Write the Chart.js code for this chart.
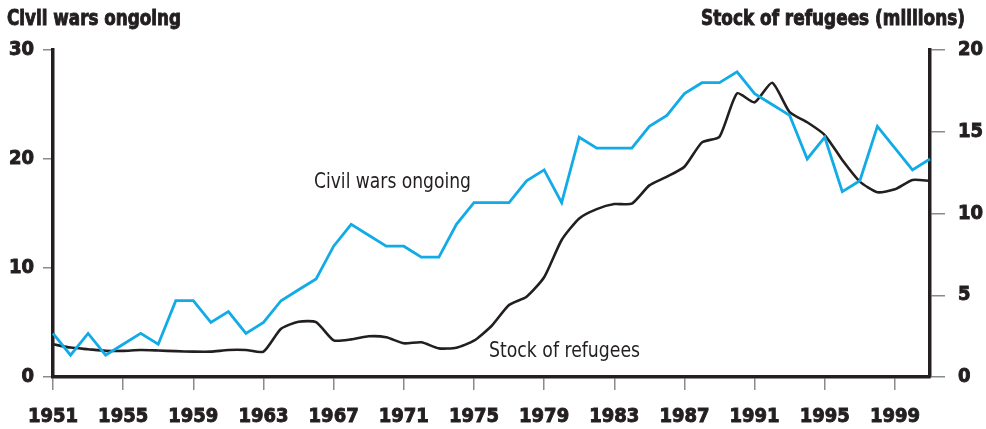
<!DOCTYPE html>
<html>
<head>
<meta charset="utf-8">
<script src="https://cdn.jsdelivr.net/npm/chart.js@4.4.1/dist/chart.umd.min.js"></script>
<style>
  html, body { margin: 0; padding: 0; background: #fff; }
  #wrap { width: 986px; height: 429px; position: relative; }
</style>
</head>
<body>
<div id="wrap"><canvas id="c"></canvas></div>
<script>
const years = Array.from({ length: 51 }, (_, i) => String(1951 + i))

// civil wars ongoing, left axis
const civilWars = [
  4, 2, 4, 2, 3, 4, 3, 7, 7, 5,
  6, 4, 5, 7, 8, 9, 12, 14, 13, 12,
  12, 11, 11, 14, 16, 16, 16, 18, 19, 16,
  22, 21, 21, 21, 23, 24, 26, 27, 27, 28,
  26, 25, 24, 20, 22, 17, 18, 23, 21, 19,
  20,
]

// stock of refugees in millions, right axis
const refugees = [
  2.0, 1.8, 1.7, 1.6, 1.6, 1.65, 1.62, 1.58, 1.55, 1.55,
  1.65, 1.65, 1.55, 2.95, 3.38, 3.36, 2.24, 2.3, 2.49, 2.43,
  2.06, 2.12, 1.75, 1.79, 2.22, 3.12, 4.4, 4.91, 6.1, 8.38,
  9.7, 10.27, 10.58, 10.6, 11.72, 12.25, 12.86, 14.35, 14.7, 17.35,
  16.8, 18.0, 16.2, 15.58, 14.8, 13.27, 11.95, 11.3, 11.48, 12.05,
  12.0,
]

const leftTitle = 'Civil wars ongoing'
const rightTitle = 'Stock of refugees (millions)'
const civilLabel = 'Civil wars ongoing'
const refugeeLabel = 'Stock of refugees'

const INK = '#231f20'
const BLUE = '#11abe6'
const TICK = '#8a8a8a'
const BOLD = "'DejaVu Sans Condensed', 'Liberation Sans Narrow', sans-serif"
const PLAIN = "'DejaVu Sans Condensed', sans-serif"

// draw text squeezed to a given width (the original uses a condensed face)
function squeezed(ctx, text, x, y, width, align, stroke) {
  const w = ctx.measureText(text).width
  const k = width / w
  ctx.save()
  ctx.translate(align === 'right' ? x - width : x, y)
  ctx.scale(k, 1)
  ctx.textAlign = 'left'
  ctx.fillText(text, 0, 0)
  if (stroke) {
    ctx.lineWidth = stroke
    ctx.strokeStyle = ctx.fillStyle
    ctx.strokeText(text, 0, 0)
  }
  ctx.restore()
}

const textPlugin = {
  id: 'texts',
  afterDraw(chart) {
    const ctx = chart.ctx
    const x = chart.scales.x
    const yl = chart.scales.yL
    ctx.save()
    ctx.fillStyle = INK
    ctx.textBaseline = 'alphabetic'
    ctx.font = 'bold 21px ' + BOLD
    squeezed(ctx, leftTitle, 7, 25, 174, 'left', 0.9)
    squeezed(ctx, rightTitle, 965, 25, 264, 'right', 0.9)

    ctx.font = '22px ' + PLAIN
    squeezed(ctx, civilLabel, x.getPixelForValue(14.88), yl.getPixelForValue(17.34), 157, 'left')
    squeezed(ctx, refugeeLabel, x.getPixelForValue(24.86), yl.getPixelForValue(1.83), 151, 'left')
    ctx.restore()
  },
}

const tickFont = { family: BOLD, size: 20, weight: 'bold' }

new Chart(document.getElementById('c'), {
  type: 'line',
  data: {
    labels: years,
    datasets: [
      {
        label: 'Civil wars ongoing',
        data: civilWars,
        yAxisID: 'yL',
        borderColor: BLUE,
        borderWidth: 2.8,
        pointRadius: 0,
        tension: 0,
      },
      {
        label: 'Stock of refugees',
        data: refugees,
        yAxisID: 'yR',
        borderColor: INK,
        borderWidth: 2.6,
        pointRadius: 0,
        tension: 0.2,
      },
    ],
  },
  options: {
    responsive: true,
    maintainAspectRatio: false,
    animation: false,
    layout: { padding: { top: 50, left: 0, right: 0, bottom: 0 } },
    plugins: {
      legend: { display: false },
      tooltip: { enabled: false },
    },
    scales: {
      x: {
        ticks: {
          autoSkip: false,
          maxRotation: 0,
          padding: 15,
          color: INK,
          textStrokeColor: INK,
          textStrokeWidth: 0.9,
          font: tickFont,
          callback: (v, i) => (i % 4 === 0 ? years[i] : null),
        },
        grid: { drawOnChartArea: false, tickLength: 13, tickColor: TICK, lineWidth: 1.5 },
        border: { color: INK, width: 3.5 },
        afterFit: (s) => { s.height = 52 },
      },
      yL: {
        position: 'left',
        min: 0,
        max: 30,
        ticks: {
          stepSize: 10,
          padding: 9,
          color: INK,
          textStrokeColor: INK,
          textStrokeWidth: 0.9,
          font: tickFont,
        },
        grid: { drawOnChartArea: false, tickLength: 10, tickColor: TICK, lineWidth: 1.5 },
        border: { color: INK, width: 3.5 },
        afterFit: (s) => { s.width = 53 },
      },
      yR: {
        position: 'right',
        min: 0,
        max: 20,
        ticks: {
          stepSize: 5,
          padding: 13,
          color: INK,
          textStrokeColor: INK,
          textStrokeWidth: 0.9,
          font: tickFont,
        },
        grid: { drawOnChartArea: false, tickLength: 15, tickColor: TICK, lineWidth: 1.5 },
        border: { color: INK, width: 3.5 },
        afterFit: (s) => { s.width = 56 },
      },
    },
  },
  plugins: [textPlugin],
})
</script>
</body>
</html>
